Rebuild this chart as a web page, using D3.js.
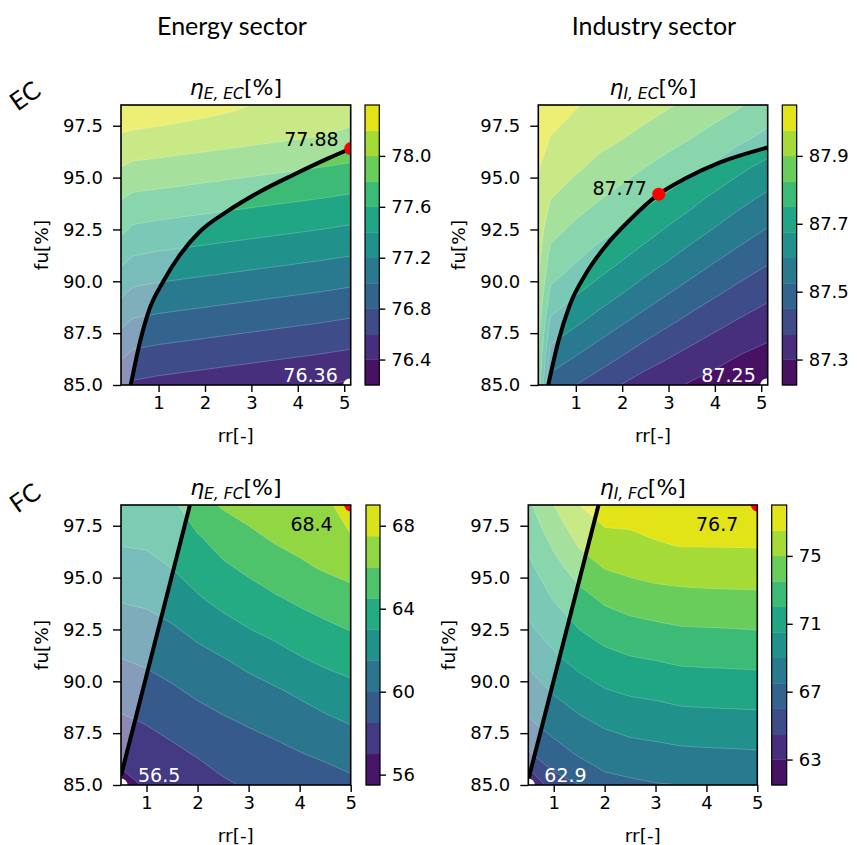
<!DOCTYPE html>
<html><head><meta charset="utf-8">
<script src="https://cdn.jsdelivr.net/npm/d3@7"></script>
<style>
body{margin:0;background:#fff}
svg text{font-family:"DejaVu Sans",sans-serif;fill:#000}
</style></head><body>
<svg id="fig" width="857" height="845"></svg>
<script>
// ---- sampling grids ----
const fuGrid = [85, 86.5, 88, 89.5, 91, 92.5, 94, 95.5, 97, 98.5];
const fuGridFine = [85, 86.5, 88, 89.5, 91, 92.5, 94, 95.5, 96.5, 97.5, 98.5];
const rrGridEC = [0.19, 0.45, 1.0, 1.5, 2.0, 2.5, 3.0, 3.5, 4.0, 4.5, 5.14];
const rrGridFC = [0.5, 1.0, 1.5, 2.0, 2.5, 3.0, 3.5, 4.0, 4.5, 5.0];

// ---- efficiency fields (rows: fu ascending, columns: rr ascending) ----
const etaEnergyEC = [
  [76.64, 76.57, 76.54, 76.52, 76.50, 76.48, 76.46, 76.44, 76.42, 76.40, 76.37],
  [76.84, 76.77, 76.74, 76.72, 76.70, 76.68, 76.66, 76.64, 76.62, 76.60, 76.57],
  [77.04, 76.97, 76.94, 76.92, 76.90, 76.88, 76.86, 76.84, 76.82, 76.80, 76.77],
  [77.24, 77.17, 77.14, 77.12, 77.10, 77.08, 77.06, 77.04, 77.02, 77.00, 76.97],
  [77.44, 77.37, 77.34, 77.32, 77.30, 77.28, 77.26, 77.24, 77.22, 77.20, 77.17],
  [77.64, 77.57, 77.54, 77.52, 77.50, 77.48, 77.46, 77.44, 77.42, 77.40, 77.37],
  [77.81, 77.76, 77.74, 77.72, 77.70, 77.68, 77.66, 77.64, 77.62, 77.60, 77.57],
  [78.00, 77.96, 77.94, 77.92, 77.90, 77.88, 77.86, 77.84, 77.82, 77.80, 77.77],
  [78.18, 78.16, 78.14, 78.12, 78.10, 78.08, 78.06, 78.04, 78.02, 78.00, 77.97],
  [78.38, 78.36, 78.33, 78.30, 78.27, 78.24, 78.20, 78.17, 78.14, 78.11, 78.07]
];
const etaIndustryEC = [
  [87.80, 87.490, 87.450, 87.414, 87.372, 87.338, 87.318, 87.291, 87.271, 87.260, 87.250],
  [87.83, 87.577, 87.530, 87.491, 87.455, 87.418, 87.385, 87.356, 87.329, 87.303, 87.280],
  [87.86, 87.659, 87.610, 87.569, 87.530, 87.494, 87.459, 87.426, 87.395, 87.367, 87.334],
  [87.89, 87.739, 87.684, 87.644, 87.605, 87.566, 87.530, 87.495, 87.463, 87.432, 87.397],
  [87.92, 87.796, 87.754, 87.714, 87.675, 87.636, 87.600, 87.564, 87.529, 87.497, 87.459],
  [87.94, 87.850, 87.807, 87.775, 87.745, 87.705, 87.666, 87.630, 87.596, 87.561, 87.521],
  [87.96, 87.902, 87.863, 87.829, 87.800, 87.769, 87.736, 87.698, 87.658, 87.625, 87.584],
  [87.98, 87.939, 87.911, 87.882, 87.854, 87.825, 87.797, 87.770, 87.738, 87.694, 87.652],
  [88.00, 87.975, 87.945, 87.923, 87.906, 87.879, 87.854, 87.829, 87.801, 87.774, 87.733],
  [88.04, 88.010, 87.980, 87.957, 87.951, 87.931, 87.907, 87.882, 87.859, 87.833, 87.795]
];
const etaEnergyFC = [
  [56.55, 57.14, 57.38, 57.79, 58.30, 58.65, 58.75, 59.08, 59.31, 59.64],
  [57.39, 57.84, 58.18, 58.61, 59.05, 59.37, 59.60, 59.94, 60.25, 60.60],
  [58.24, 58.56, 58.98, 59.43, 59.80, 60.11, 60.45, 60.81, 61.19, 61.57],
  [59.09, 59.39, 59.79, 60.23, 60.59, 60.94, 61.30, 61.73, 62.21, 62.57],
  [59.94, 60.21, 60.57, 61.01, 61.39, 61.87, 62.34, 62.85, 63.25, 63.56],
  [60.78, 60.98, 61.34, 61.87, 62.48, 62.96, 63.38, 63.81, 64.19, 64.55],
  [61.63, 61.77, 62.19, 62.87, 63.44, 63.89, 64.34, 64.77, 65.18, 65.52],
  [62.45, 62.57, 63.04, 63.65, 64.28, 64.80, 65.30, 65.77, 66.16, 66.49],
  [63.27, 63.35, 63.62, 64.40, 65.19, 65.70, 66.22, 66.51, 66.93, 67.44],
  [64.10, 64.15, 64.19, 65.53, 66.15, 66.60, 67.06, 67.15, 67.10, 68.40]
];
const etaIndustryFC = [
  [62.90, 65.34, 66.00, 67.04, 67.23, 67.42, 67.50, 67.58, 67.63, 67.69],
  [65.83, 66.88, 67.66, 68.12, 68.39, 68.55, 68.70, 68.76, 68.80, 68.85],
  [67.31, 68.10, 68.71, 69.21, 69.54, 69.68, 69.88, 69.93, 69.97, 70.02],
  [68.30, 69.11, 69.81, 70.38, 70.67, 70.82, 71.04, 71.10, 71.14, 71.18],
  [69.24, 70.19, 70.92, 71.50, 71.83, 72.00, 72.21, 72.26, 72.30, 72.35],
  [70.24, 71.16, 72.00, 72.62, 72.98, 73.18, 73.38, 73.42, 73.46, 73.52],
  [71.00, 72.09, 73.02, 73.77, 74.17, 74.42, 74.56, 74.62, 74.65, 74.68],
  [71.68, 73.03, 74.20, 75.08, 75.40, 75.64, 75.74, 75.80, 75.84, 75.85],
  [72.16, 73.66, 75.07, 75.92, 76.25, 76.45, 76.51, 76.52, 76.53, 76.55],
  [72.70, 74.33, 75.80, 76.55, 76.56, 76.61, 76.63, 76.64, 76.65, 76.66],
  [73.23, 75.00, 76.50, 76.62, 76.65, 76.67, 76.68, 76.69, 76.69, 76.70]
];

// ---- contour levels ----
const levelsEnergyEC = [76.2, 76.4, 76.6, 76.8, 77.0, 77.2, 77.4, 77.6, 77.8, 78.0, 78.2, 78.4];
const levelsIndustryEC = [87.225, 87.3, 87.375, 87.45, 87.525, 87.6, 87.675, 87.75, 87.825, 87.9, 87.975, 88.05];
const levelsEnergyFC = [55.5, 57, 58.5, 60, 61.5, 63, 64.5, 66, 67.5, 69];
const levelsIndustryFC = [61.5, 63, 64.5, 66, 67.5, 69, 70.5, 72, 73.5, 75, 76.5, 78];

// ---- colorbar and axis ticks ----
const cbTicksEnergyEC = [76.4, 76.8, 77.2, 77.6, 78.0];
const cbTicksIndustryEC = [87.3, 87.5, 87.7, 87.9];
const cbTicksEnergyFC = [56, 60, 64, 68];
const cbTicksIndustryFC = [63, 67, 71, 75];
const rrTicks = [1, 2, 3, 4, 5];
const fuTicks = [85.0, 87.5, 90.0, 92.5, 95.0, 97.5];

// ---- operating lines ----
const pathEnergyEC_rr = [0.40, 0.60, 0.81, 1.10, 1.46, 1.89, 2.47, 3.19, 3.91, 4.63, 5.14];
const pathEnergyEC_fu = [85.0, 87.09, 88.70, 89.99, 91.27, 92.40, 93.36, 94.33, 95.14, 95.90, 96.40];
const pathIndustryEC_rr = [0.405, 0.62, 0.87, 1.23, 1.66, 2.16, 2.79, 3.38, 4.10, 5.14];
const pathIndustryEC_fu = [85.0, 87.09, 88.86, 90.41, 91.75, 92.95, 94.20, 94.98, 95.72, 96.45];
const pathEnergyFC_rr = [0.5, 1.85];
const pathEnergyFC_fu = [85.45, 98.5];
const pathIndustryFC_rr = [0.5, 1.88];
const pathIndustryFC_fu = [85.25, 98.5];

// ---- highlighted points: [rr, fu, value] ----
const bestEnergyEC = [5.14, 96.4, 77.88], worstEnergyEC = [5.12, 85.0, 76.36];
const bestIndustryEC = [2.79, 94.2, 87.77], worstIndustryEC = [5.12, 85.0, 87.25];
const bestEnergyFC = [5.0, 98.5, 68.4], worstEnergyFC = [0.5, 85.0, 56.5];
const bestIndustryFC = [5.0, 98.5, 76.7], worstIndustryFC = [0.5, 85.0, 62.9];

const svg = d3.select("#fig");
const fuDomain = [85, 98.5];

const panels = [
  {id: "ee", box: [121, 350.7, 105, 385], cb: [365, 379.3], xDom: [0.19, 5.14], rr: rrGridEC, fu: fuGrid, z: etaEnergyEC,
   levels: levelsEnergyEC, cbTicks: cbTicksEnergyEC, cbFmt: d3.format(".1f"), sub: "E, EC",
   path: [pathEnergyEC_rr, pathEnergyEC_fu], smooth: true, best: bestEnergyEC, worst: worstEnergyEC,
   bestFmt: d3.format(".2f"), worstFmt: d3.format(".2f"),
   bestLbl: {dx: -12, dy: -3, anchor: "end"}, worstLbl: {dx: -12, dy: -3, anchor: "end"}},
  {id: "ie", box: [538.3, 767.7, 105, 385], cb: [782.3, 796.7], xDom: [0.19, 5.14], rr: rrGridEC, fu: fuGrid, z: etaIndustryEC,
   levels: levelsIndustryEC, cbTicks: cbTicksIndustryEC, cbFmt: d3.format(".1f"), sub: "I, EC",
   path: [pathIndustryEC_rr, pathIndustryEC_fu], smooth: true, best: bestIndustryEC, worst: worstIndustryEC,
   bestFmt: d3.format(".2f"), worstFmt: d3.format(".2f"),
   bestLbl: {dx: -12, dy: 1, anchor: "end"}, worstLbl: {dx: -11, dy: -3, anchor: "end"}},
  {id: "ef", box: [121, 350.7, 505, 785], cb: [366, 380], xDom: [0.5, 5.0], rr: rrGridFC, fu: fuGrid, z: etaEnergyFC,
   levels: levelsEnergyFC, cbTicks: cbTicksEnergyFC, cbFmt: d3.format("d"), sub: "E, FC",
   path: [pathEnergyFC_rr, pathEnergyFC_fu], smooth: false, best: bestEnergyFC, worst: worstEnergyFC,
   bestFmt: d3.format(".1f"), worstFmt: d3.format(".1f"),
   bestLbl: {dx: -18, dy: 26, anchor: "end"}, worstLbl: {dx: 17, dy: -3, anchor: "start"}},
  {id: "if", box: [528.3, 757.3, 505, 785], cb: [771.7, 786.7], xDom: [0.5, 5.0], rr: rrGridFC, fu: fuGridFine, z: etaIndustryFC,
   levels: levelsIndustryFC, cbTicks: cbTicksIndustryFC, cbFmt: d3.format("d"), sub: "I, FC",
   path: [pathIndustryFC_rr, pathIndustryFC_fu], smooth: false, best: bestIndustryFC, worst: worstIndustryFC,
   bestFmt: d3.format(".1f"), worstFmt: d3.format(".1f"),
   bestLbl: {dx: -19, dy: 26, anchor: "end"}, worstLbl: {dx: 16, dy: -3, anchor: "start"}}
];

const defs = svg.append("defs");

function drawPanel(p) {
  const [x0, x1, y0, y1] = p.box;
  const xS = d3.scaleLinear().domain(p.xDom).range([x0, x1]);
  const yS = d3.scaleLinear().domain(fuDomain).range([y1, y0]);
  const g = svg.append("g");

  defs.append("clipPath").attr("id", "clip-" + p.id)
    .append("rect").attr("x", x0).attr("y", y0).attr("width", x1 - x0).attr("height", y1 - y0);
  const body = g.append("g").attr("clip-path", `url(#clip-${p.id})`);

  // filled contour bands (grid sample i sits at contour coordinate i + 0.5)
  const nx = p.rr.length, ny = p.fu.length;
  const flat = p.z.flat();
  const gx = d3.scaleLinear().domain(d3.range(nx).map(i => i + 0.5)).range(p.rr);
  const gy = d3.scaleLinear().domain(d3.range(ny).map(j => j + 0.5)).range(p.fu);
  const proj = d3.geoTransform({point(x, y) { this.stream.point(xS(gx(x)), yS(gy(y))); }});
  const geo = d3.geoPath(proj);
  const nb = p.levels.length - 1;
  const bandColor = k => d3.interpolateViridis((k + 0.5) / nb);
  const bands = d3.contours().size([nx, ny]).thresholds(p.levels.slice(0, nb))(flat);
  body.selectAll("path.band").data(bands).join("path")
    .attr("class", "band").attr("d", geo).attr("fill", (d, i) => bandColor(i))
    .attr("stroke", (d, i) => bandColor(i)).attr("stroke-width", 0.3);
  body.selectAll("path.iso").data(bands.slice(1)).join("path")
    .attr("class", "iso").attr("d", geo).attr("fill", "none")
    .attr("stroke", "#ffffff").attr("stroke-opacity", 0.35).attr("stroke-width", 0.6);

  // operating line and the lightened side of it
  const pts = p.path[0].map((r, i) => [r, p.path[1][i]]);
  const line = d3.line().x(d => xS(d[0])).y(d => yS(d[1]))
    .curve(p.smooth ? d3.curveMonotoneX : d3.curveLinear);
  const last = pts[pts.length - 1];
  let shade = line(pts);
  if (p.smooth) {
    shade += `L${xS(p.xDom[1]) + 2},${yS(last[1])}L${xS(p.xDom[1]) + 2},${y0 - 2}L${x0 - 2},${y0 - 2}L${x0 - 2},${y1 + 2}L${xS(pts[0][0])},${y1 + 2}Z`;
  } else {
    shade += `L${x0 - 2},${y0 - 2}L${x0 - 2},${yS(pts[0][1])}Z`;
  }
  body.append("path").attr("d", shade).attr("fill", "#ffffff").attr("fill-opacity", 0.4);
  body.append("path").attr("d", line(pts)).attr("fill", "none")
    .attr("stroke", "#000").attr("stroke-width", 4);

  // extreme points
  body.append("circle").attr("cx", xS(p.best[0])).attr("cy", yS(p.best[1])).attr("r", 6.5).attr("fill", "#ff0000");
  body.append("circle").attr("cx", xS(p.worst[0])).attr("cy", yS(p.worst[1])).attr("r", 6.5).attr("fill", "#ffffff");
  g.append("text").attr("x", xS(p.best[0]) + p.bestLbl.dx).attr("y", yS(p.best[1]) + p.bestLbl.dy)
    .attr("text-anchor", p.bestLbl.anchor).style("font-size", "19px").text(p.bestFmt(p.best[2]));
  g.append("text").attr("x", xS(p.worst[0]) + p.worstLbl.dx).attr("y", yS(p.worst[1]) + p.worstLbl.dy)
    .attr("text-anchor", p.worstLbl.anchor).style("font-size", "19px").style("fill", "#ffffff")
    .text(p.worstFmt(p.worst[2]));

  // axes
  const ax = g.append("g").attr("transform", `translate(0,${y1})`)
    .call(d3.axisBottom(xS).tickValues(rrTicks).tickFormat(d3.format("d")).tickSize(7).tickPadding(4));
  const ay = g.append("g").attr("transform", `translate(${x0},0)`)
    .call(d3.axisLeft(yS).tickValues(fuTicks).tickFormat(d3.format(".1f")).tickSize(8).tickPadding(10));
  [ax, ay].forEach(a => {
    a.select(".domain").remove();
    a.selectAll(".tick line").attr("stroke", "#000").attr("stroke-width", 1.4);
    a.selectAll(".tick text").style("font-size", "18px").attr("fill", "#000")
      .style("font-family", '"DejaVu Sans",sans-serif');
  });
  g.append("rect").attr("x", x0).attr("y", y0).attr("width", x1 - x0).attr("height", y1 - y0)
    .attr("fill", "none").attr("stroke", "#000").attr("stroke-width", 1.6);

  // axis labels
  g.append("text").attr("x", (x0 + x1) / 2).attr("y", y1 + 57).attr("text-anchor", "middle")
    .style("font-size", "18.5px").text("rr[-]");
  g.append("text").attr("transform", `translate(${x0 - 73},${(y0 + y1) / 2}) rotate(-90)`)
    .attr("text-anchor", "middle").style("font-size", "18.5px").text("fu[%]");

  // panel title
  const t = g.append("text").attr("x", (x0 + x1) / 2).attr("y", y0 - 10).attr("text-anchor", "middle")
    .style("font-size", "22px");
  t.append("tspan").style("font-style", "italic").text("η");
  t.append("tspan").style("font-style", "italic").style("font-size", "15.5px").attr("dy", 4).text(p.sub);
  t.append("tspan").attr("dy", -4).text("[%]");

  // colorbar
  const [c0, c1] = p.cb;
  const cS = d3.scaleLinear().domain([p.levels[0], p.levels[nb]]).range([y1, y0]);
  const cg = g.append("g");
  cg.selectAll("rect.cb").data(d3.range(nb)).join("rect")
    .attr("x", c0).attr("width", c1 - c0)
    .attr("y", k => cS(p.levels[k + 1])).attr("height", k => cS(p.levels[k]) - cS(p.levels[k + 1]) + 0.3)
    .attr("fill", k => bandColor(k));
  cg.append("rect").attr("x", c0).attr("y", y0).attr("width", c1 - c0).attr("height", y1 - y0)
    .attr("fill", "none").attr("stroke", "#000").attr("stroke-width", 1.2);
  const ca = cg.append("g").attr("transform", `translate(${c1},0)`)
    .call(d3.axisRight(cS).tickValues(p.cbTicks).tickFormat(p.cbFmt).tickSize(6).tickPadding(6));
  ca.select(".domain").remove();
  ca.selectAll(".tick line").attr("stroke", "#000").attr("stroke-width", 1.4);
  ca.selectAll(".tick text").style("font-size", "18px").attr("fill", "#000")
    .style("font-family", '"DejaVu Sans",sans-serif');
}

panels.forEach(drawPanel);

// column and row headings
const headFont = "Lato, 'Open Sans', sans-serif";
svg.append("text").attr("x", 232).attr("y", 35).attr("text-anchor", "middle")
  .style("font-family", headFont).style("font-size", "25px").text("Energy sector");
svg.append("text").attr("x", 654).attr("y", 35).attr("text-anchor", "middle")
  .style("font-family", headFont).style("font-size", "25px").text("Industry sector");
svg.append("text").attr("transform", "translate(30,103) rotate(-35)").attr("text-anchor", "middle")
  .style("font-family", headFont).style("font-size", "25px").text("EC");
svg.append("text").attr("transform", "translate(30,505) rotate(-35)").attr("text-anchor", "middle")
  .style("font-family", headFont).style("font-size", "25px").text("FC");
</script>
</body></html>
